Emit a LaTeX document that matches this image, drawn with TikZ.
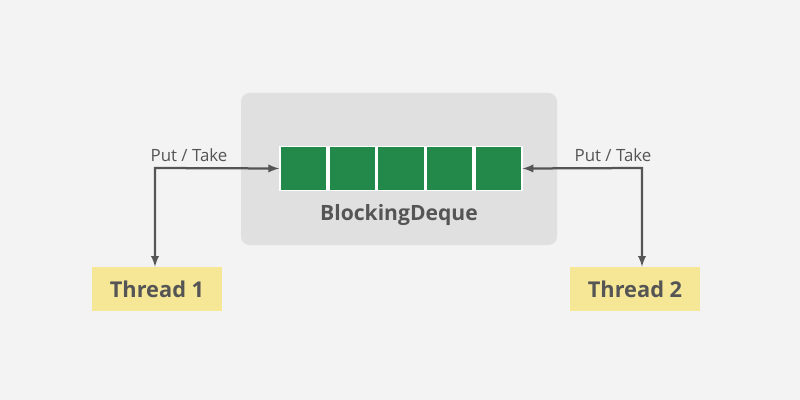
\documentclass[tikz,border=0pt]{standalone}
\usepackage{fontspec}
\setmainfont{Open Sans}
\usetikzlibrary{positioning}
\definecolor{bgray}{HTML}{F3F3F3}
\definecolor{boxgray}{HTML}{E0E0E0}
\definecolor{cellgreen}{HTML}{23894A}
\definecolor{thyellow}{HTML}{F5E796}
\definecolor{txtgray}{HTML}{555555}
\tikzset{
  cell/.style={fill=cellgreen, draw=white, line width=1.2pt, minimum width=47*0.025cm, minimum height=44*0.025cm, inner sep=0pt},
  thread/.style={fill=thyellow, text=txtgray, font=\fontsize{15.5}{17}\selectfont\bfseries, minimum width=130*0.025cm, minimum height=44*0.025cm},
  lbl/.style={text=txtgray, font=\fontsize{12}{14}\selectfont},
  link/.style={draw=txtgray, line width=1.6pt, <->, >=latex}
}
\begin{document}
\begin{tikzpicture}[x=0.025cm, y=-0.025cm]
  \fill[bgray] (0,0) rectangle (800,400);
  \useasboundingbox (0,0) rectangle (800,400);
  \fill[boxgray, rounded corners=6pt] (241,93) rectangle (557,245);
  % the deque cells
  \node[cell] (c1) at (303.5,168.5) {};
  \foreach \i [remember=\i as \j (initially 1)] in {2,...,5}
    \node[cell, right=0pt of c\j] (c\i) {};
  \node[text=txtgray, font=\fontsize{15}{17}\selectfont\bfseries] (dq) at (399,215) {BlockingDeque};
  \node[thread] (t1) at (157,289) {Thread 1};
  \node[thread] (t2) at (635,289) {Thread 2};
  \coordinate (k1) at (155,168);
  \coordinate (k2) at (642,168);
  \draw[link] (t1.north -| k1) -- (k1) -- (c1.west);
  \draw[link] (t2.north -| k2) -- (k2) -- (c5.east);
  \node[lbl] (p1) at (189,155) {Put / Take};
  \node[lbl] (p2) at (613,155) {Put / Take};
\end{tikzpicture}
\end{document}
